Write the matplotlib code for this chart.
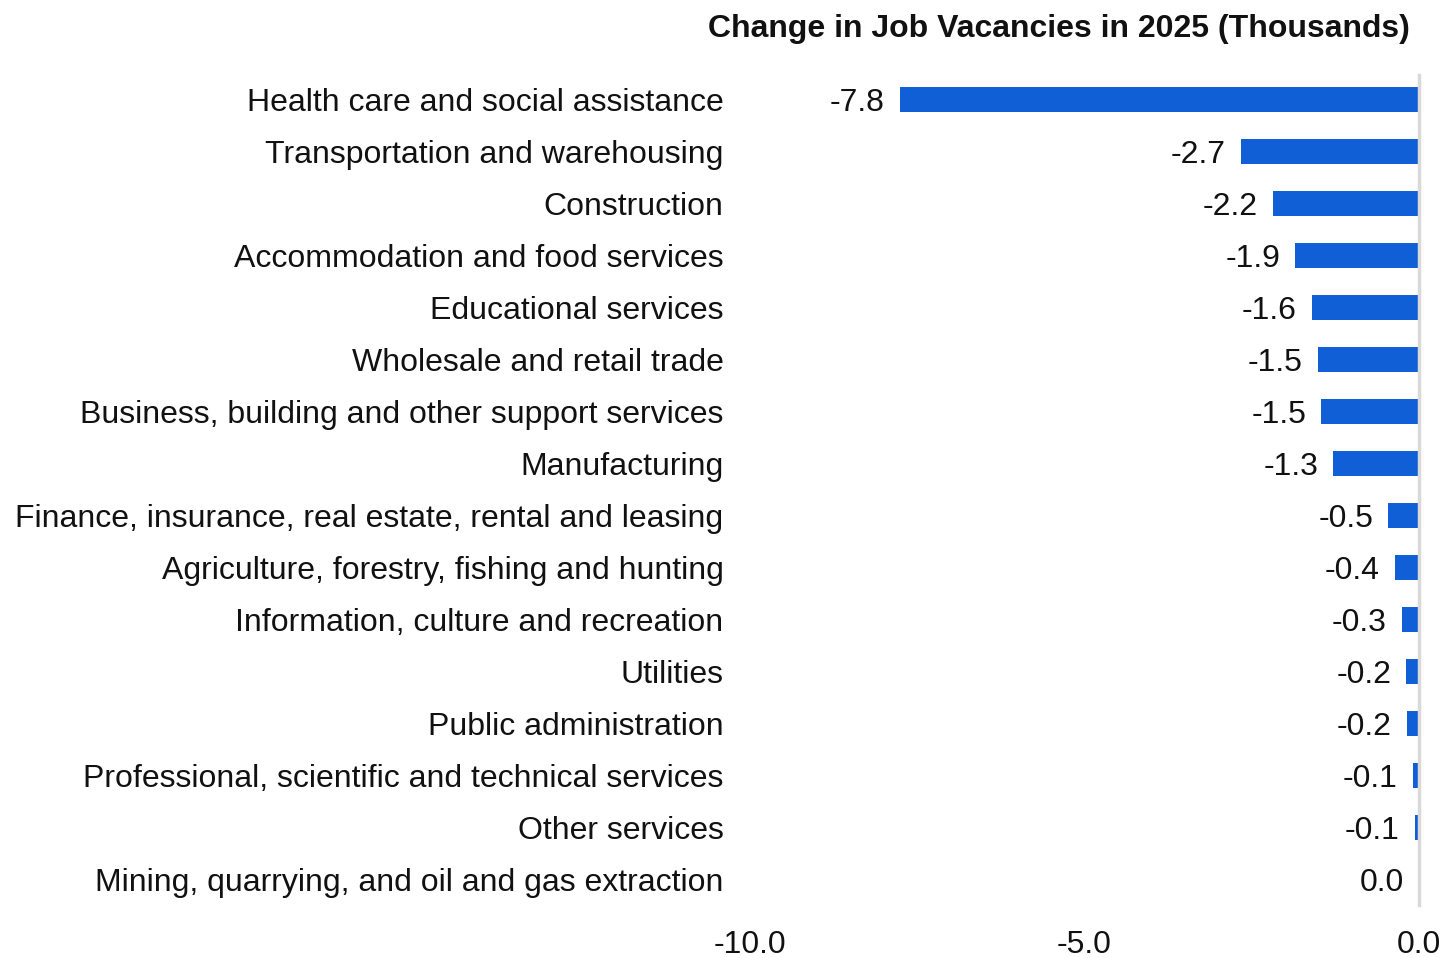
import matplotlib
matplotlib.use("Agg")
from matplotlib import pyplot as plt

plt.rcParams["font.family"] = ["Liberation Sans", "DejaVu Sans"]

industries = [
    "Health care and social assistance",
    "Transportation and warehousing",
    "Construction",
    "Accommodation and food services",
    "Educational services",
    "Wholesale and retail trade",
    "Business, building and other support services",
    "Manufacturing",
    "Finance, insurance, real estate, rental and leasing",
    "Agriculture, forestry, fishing and hunting",
    "Information, culture and recreation",
    "Utilities",
    "Public administration",
    "Professional, scientific and technical services",
    "Other services",
    "Mining, quarrying, and oil and gas extraction",
]
change = [-7.76, -2.66, -2.18, -1.85, -1.60, -1.51, -1.46, -1.28,
          -0.46, -0.36, -0.26, -0.19, -0.18, -0.09, -0.06, 0.0]
x_ticks = [-10.0, -5.0, 0.0]

fig = plt.figure(figsize=(14.45, 9.58), dpi=100)
ax = fig.add_axes([0.519, 0.055, 0.463, 0.867])

pos = list(range(len(industries)))
ax.barh(pos, change, height=0.48, color="#115fd6")

for y, v in zip(pos, change):
    ax.annotate(f"{v:.1f}", xy=(v, y), xytext=(-15, 0), textcoords="offset pixels",
                ha="right", va="center_baseline", fontsize=23, color="#111111")

ax.set_xlim(-10, 0)
ax.set_ylim(len(industries) - 0.5, -0.48)
ax.set_yticks(pos)
ax.set_yticklabels(industries)
ax.set_xticks(x_ticks)
ax.set_xticklabels([f"{t:.1f}" for t in x_ticks])
ax.tick_params(axis="y", length=0, pad=19, labelsize=23, labelcolor="#111111")
ax.tick_params(axis="x", length=0, pad=18, labelsize=23, labelcolor="#111111")

for s in ["top", "left", "bottom"]:
    ax.spines[s].set_visible(False)
ax.spines["right"].set_color("#d9d9d9")
ax.spines["right"].set_linewidth(2.5)

fig.text(0.976, 0.970, "Change in Job Vacancies in 2025 (Thousands)", ha="right", va="center",
         fontsize=23, fontweight="bold", color="#111111")

fig.savefig("out.png", dpi=100)
